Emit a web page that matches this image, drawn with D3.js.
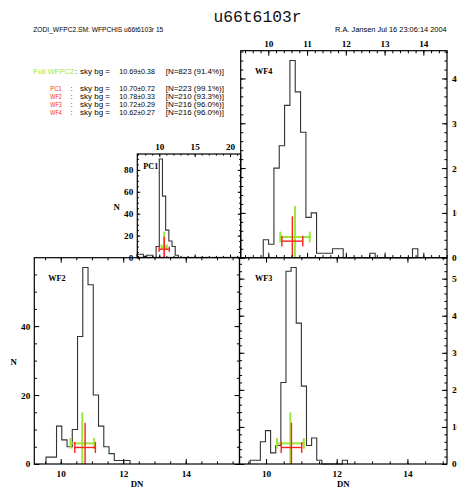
<!DOCTYPE html>
<html><head><meta charset="utf-8">
<script src="https://cdn.jsdelivr.net/npm/d3@7"></script>
<style>body{margin:0;background:#fff}svg{display:block}</style>
</head><body><svg id="c" width="457" height="490"></svg>
<script>
// ---------------- data ----------------
const chipNames = ["PC1", "WF2", "WF3", "WF4"];
const binStarts = [6.85, 9.53, 9.55, 9.87];
const binWidths = [0.45, 0.168, 0.145, 0.1375];
const countsPC1 = [3, 3, 1, 2, 2, 0, 10, 90, 56, 25, 15, 10, 2];
const countsWF2 = [2, 2, 11, 7, 5, 10, 37, 57, 52, 20, 11, 5, 3, 1, 1, 1];
const countsWF3 = [1, 1, 6, 9, 3, 5, 22, 52, 53, 38, 21, 5, 7, 1, 0, 0, 0, 0, 1];
const countsWF4 = [4, 3, 20, 25, 34, 44, 37, 28, 9, 10, 1, 1, 1, 2, 2, 0, 0, 0, 0, 0, 1, 0, 0, 0, 0, 0, 0, 0, 2];
const xRanges = [[6.89, 21.51], [9.155, 15.72], [9.25, 15.12], [9.288, 14.61]];
const yMaxes = [94.5, 59.85, 55.65, 46.2];
const xMajorTicks = [[10, 15, 20], [10, 12, 14], [10, 12, 14], [10, 11, 12, 13, 14]];
const yMajorTicks = [[0, 20, 40, 60, 80], [0, 20, 40], [0, 10, 20, 30, 40, 50], [0, 10, 20, 30, 40]];
const xMinorSteps = [1, 0.5, 0.5, 0.2];
const yMinorSteps = [5, 5, 2, 2];
const fullLabel = "Full WFPC2";
const fullMean = 10.69, fullSigma = 0.38, fullN = 823, fullPct = 91.4;
const chipMeans = [10.70, 10.78, 10.72, 10.62];
const chipSigmas = [0.72, 0.33, 0.29, 0.27];
const chipN = [223, 210, 216, 216];
const chipPct = [99.1, 93.3, 96.0, 96.0];
const titleText = "u66t6103r";
const headerLeft = "ZODI_WFPC2.SM: WFPCHIS u66t6103r 15";
const headerRight = "R.A. Jansen Jul 16 23:06:14 2004";
const xTitle = "DN", yTitle = "N";

// ---------------- layout / style ----------------
const GREEN = "#9be83a", RED = "#ff1f1f", HIST = "#333";
const SERIF = "'Liberation Serif', 'DejaVu Serif', serif";
const SANS = "'Liberation Sans', Arial, sans-serif";
const counts = [countsPC1, countsWF2, countsWF3, countsWF4];
const layout = [
  {box: [137.3, 154, 240.7, 257.5], xLab: "top", yLab: "left", maj: 3, min: 1.6, cap: 2.7, lab: [143.3, 169.3]},
  {box: [34.3, 257.7, 239.5, 464], xLab: "bottom", yLab: "left", maj: 5, min: 2.6, cap: 5.4, lab: [48.3, 281]},
  {box: [239.5, 257.7, 447, 464], xLab: "bottom", yLab: "right", maj: 5, min: 2.6, cap: 5.4, lab: [255, 281]},
  {box: [240.7, 50.7, 447, 257.7], xLab: "top", yLab: "right", maj: 5, min: 2.6, cap: 5.4, lab: [255, 74.3]}
];

const svg = d3.select("#c");
svg.append("rect").attr("width", 457).attr("height", 490).attr("fill", "#fff");

// title & headers
svg.append("text").attr("x", 257.5).attr("y", 21.7).attr("text-anchor", "middle")
  .attr("font-family", "'Liberation Mono', 'DejaVu Sans Mono', monospace").attr("font-size", 16.3)
  .attr("fill", "#111").text(titleText);
svg.append("text").attr("x", 33.3).attr("y", 32.3).attr("font-family", SANS).attr("font-size", 6.6)
  .attr("textLength", 130).attr("lengthAdjust", "spacingAndGlyphs").text(headerLeft);
svg.append("text").attr("x", 335).attr("y", 32.3).attr("font-family", SANS).attr("font-size", 6.6)
  .attr("textLength", 111.7).attr("lengthAdjust", "spacingAndGlyphs").text(headerRight);

// stats block
function statRow(y, name, color, nameX, nameLen, colonX, mean, sig, n, pct) {
  const g = svg.append("g").attr("font-family", SANS).attr("font-size", 7.4);
  g.append("text").attr("x", nameX).attr("y", y).attr("fill", color)
    .attr("textLength", nameLen).attr("lengthAdjust", "spacingAndGlyphs").text(name);
  g.append("text").attr("x", colonX).attr("y", y).text(":");
  g.append("text").attr("x", 80).attr("y", y).attr("textLength", 30).attr("lengthAdjust", "spacingAndGlyphs").text("sky bg =");
  g.append("text").attr("x", 119.3).attr("y", y).attr("textLength", 35.7).attr("lengthAdjust", "spacingAndGlyphs")
    .text(mean.toFixed(2) + "\u00b1" + sig.toFixed(2));
  g.append("text").attr("x", 165.7).attr("y", y).attr("textLength", 58.3).attr("lengthAdjust", "spacingAndGlyphs")
    .text("[N=" + n + " (" + pct.toFixed(1) + "%)]");
}
statRow(74, fullLabel, GREEN, 33.3, 41, 75, fullMean, fullSigma, fullN, fullPct);
const rowYs = [91, 99, 107.2, 115.2];
chipNames.forEach((c, i) => statRow(rowYs[i], c, RED, 50.3, 11.5, 70.5, chipMeans[i], chipSigmas[i], chipN[i], chipPct[i]));

// panels
function rangeStep(d0, d1, step) {
  const out = [];
  for (let k = Math.ceil(d0 / step - 1e-9); k * step <= d1 + 1e-9; k++) out.push(+(k * step).toFixed(6));
  return out;
}
chipNames.forEach((name, i) => {
  const L = layout[i];
  const [x0, y0, x1, y1] = L.box;
  const x = d3.scaleLinear().domain(xRanges[i]).range([x0, x1]);
  const y = d3.scaleLinear().domain([0, yMaxes[i]]).range([y1, y0]);
  const g = svg.append("g");

  // histogram
  const pts = [[binStarts[i], 0]];
  counts[i].forEach((c, k) => {
    const a = binStarts[i] + k * binWidths[i];
    pts.push([a, c], [a + binWidths[i], c]);
  });
  pts.push([binStarts[i] + counts[i].length * binWidths[i], 0]);
  g.append("path").attr("d", d3.line().x(d => x(d[0])).y(d => y(d[1]))(pts))
    .attr("fill", "none").attr("stroke", HIST).attr("stroke-width", 1.1);

  // error bars
  const ym = yMaxes[i];
  function errbar(mean, sig, vTop, hLev, color, w) {
    const e = g.append("g").attr("stroke", color).attr("stroke-width", w).attr("fill", "none");
    e.append("line").attr("x1", x(mean)).attr("x2", x(mean)).attr("y1", y(0)).attr("y2", y(vTop));
    e.append("line").attr("x1", x(mean - sig)).attr("x2", x(mean + sig)).attr("y1", y(hLev)).attr("y2", y(hLev));
    [mean - sig, mean + sig].forEach(v => e.append("line").attr("x1", x(v)).attr("x2", x(v))
      .attr("y1", y(hLev) - L.cap).attr("y2", y(hLev) + L.cap));
  }
  errbar(fullMean, fullSigma, 0.25 * ym, 0.10 * ym, GREEN, 2);
  errbar(chipMeans[i], chipSigmas[i], 0.20 * ym, 0.08 * ym, RED, 1.4);

  // axes (ticks inward on all sides)
  const xMin = rangeStep(xRanges[i][0], xRanges[i][1], xMinorSteps[i]);
  const yMin = rangeStep(0, yMaxes[i], yMinorSteps[i]);
  const sides = [
    ["bottom", d3.axisBottom, x, y1, xMajorTicks[i], xMin, L.xLab === "bottom"],
    ["top", d3.axisTop, x, y0, xMajorTicks[i], xMin, L.xLab === "top"],
    ["left", d3.axisLeft, y, x0, yMajorTicks[i], yMin, L.yLab === "left"],
    ["right", d3.axisRight, y, x1, yMajorTicks[i], yMin, L.yLab === "right"]
  ];
  sides.forEach(([side, fn, sc, pos, majors, minors, labelled]) => {
    const tr = (side === "bottom" || side === "top") ? `translate(0,${pos})` : `translate(${pos},0)`;
    const gm = g.append("g").attr("transform", tr)
      .call(fn(sc).tickValues(minors).tickSize(-L.min).tickFormat(""));
    gm.select(".domain").remove();
    const pad = side === "bottom" ? 6.2 : side === "top" ? 4.2 : side === "left" ? 4 : 5;
    const gM = g.append("g").attr("transform", tr)
      .call(fn(sc).tickValues(majors).tickSize(-L.maj).tickPadding(pad)
        .tickFormat(labelled ? d3.format("d") : ""));
    gM.select(".domain").remove();
    [gm, gM].forEach(a => a.selectAll("line").attr("stroke", "#000").attr("stroke-width", 1));
    gM.selectAll("text").attr("font-family", SERIF).attr("font-weight", "bold")
      .attr("font-size", 9.2).attr("fill", "#000");
    if (side === "right") gM.selectAll("text").attr("text-anchor", "start");
  });

  // frame
  g.append("rect").attr("x", x0).attr("y", y0).attr("width", x1 - x0).attr("height", y1 - y0)
    .attr("fill", "none").attr("stroke", "#000").attr("stroke-width", 1.2);

  // panel label
  g.append("text").attr("x", L.lab[0]).attr("y", L.lab[1]).attr("font-family", SERIF)
    .attr("font-weight", "bold").attr("font-size", 8.2).text(name);
});

// axis titles
const tStyle = s => s.attr("font-family", SERIF).attr("font-weight", "bold").attr("font-size", 8.8).attr("fill", "#000");
svg.append("text").attr("x", 116.7).attr("y", 209.8).attr("text-anchor", "middle").call(tStyle).text(yTitle);
svg.append("text").attr("x", 13.6).attr("y", 364.8).attr("text-anchor", "middle").call(tStyle).text(yTitle);
svg.append("text").attr("x", 137).attr("y", 487).attr("text-anchor", "middle").call(tStyle).text(xTitle);
svg.append("text").attr("x", 343.3).attr("y", 487).attr("text-anchor", "middle").call(tStyle).text(xTitle);
</script>
</body></html>
